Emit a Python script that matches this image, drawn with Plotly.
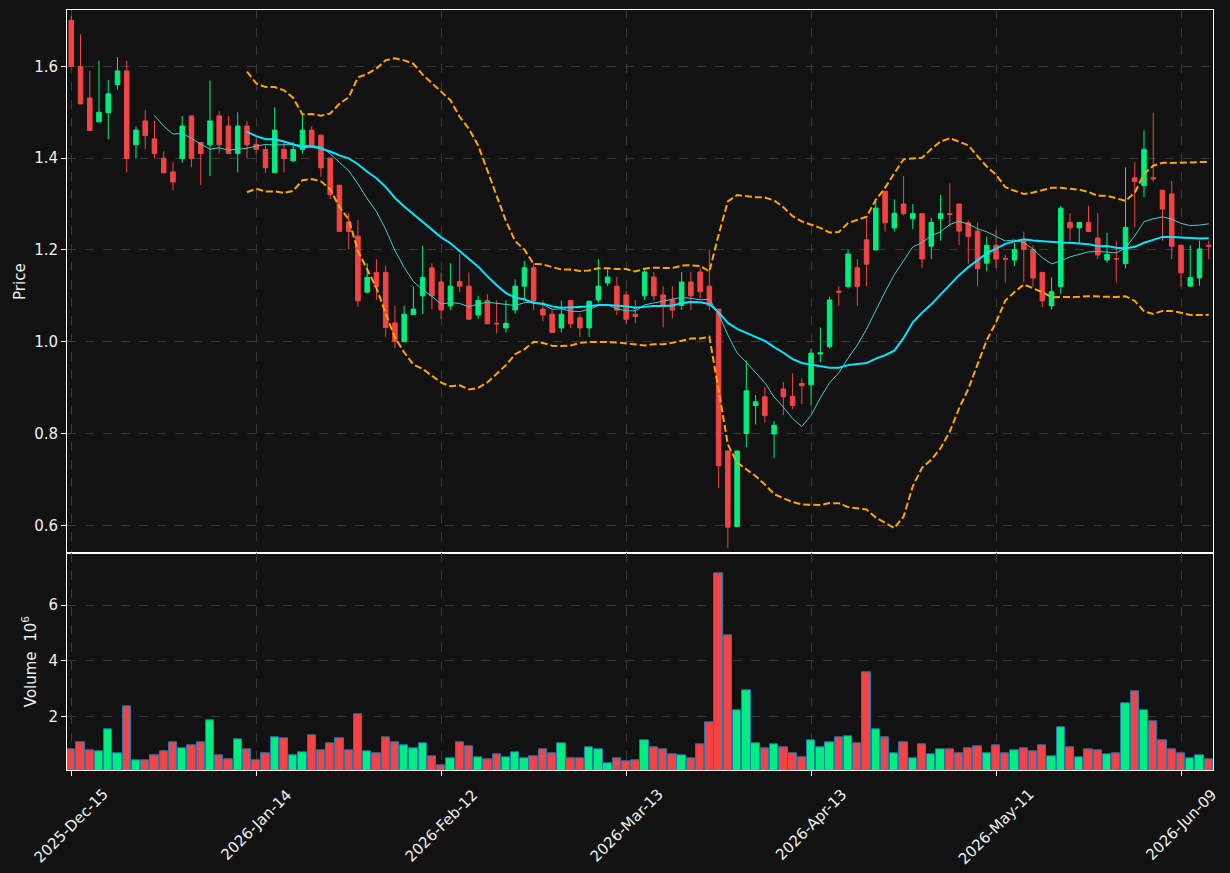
import numpy as np
import pandas as pd
import plotly.graph_objects as go

# ---------------- data ----------------
opens = [1.70, 1.60, 1.531, 1.479, 1.499, 1.56, 1.59, 1.429, 1.481, 1.442,
         1.40, 1.37, 1.399, 1.492, 1.434, 1.429, 1.492, 1.47, 1.41, 1.47,
         1.43, 1.419, 1.368, 1.419, 1.394, 1.419, 1.461, 1.45, 1.40, 1.341,
         1.261, 1.23, 1.108, 1.151, 1.151, 1.041, 1.00, 1.059, 1.10, 1.161,
         1.13, 1.078, 1.131, 1.121, 1.058, 1.09, 1.040, 1.03, 1.069, 1.121,
         1.161, 1.071, 1.06, 1.03, 1.09, 1.052, 1.03, 1.091, 1.128, 1.121,
         1.102, 1.06, 1.10, 1.141, 1.102, 1.091, 1.079, 1.13, 1.152, 1.121,
         1.071, 0.762, 0.597, 0.80, 0.861, 0.88, 0.799, 0.897, 0.881, 0.909,
         0.906, 0.973, 0.989, 1.11, 1.12, 1.161, 1.222, 1.20, 1.328, 1.248,
         1.30, 1.268, 1.279, 1.208, 1.268, 1.279, 1.30, 1.259, 1.241, 1.171,
         1.21, 1.181, 1.178, 1.221, 1.201, 1.151, 1.078, 1.12, 1.26, 1.248,
         1.26, 1.226, 1.178, 1.181, 1.17, 1.357, 1.34, 1.357, 1.33, 1.322,
         1.21, 1.121, 1.139, 1.21]
highs = [1.71, 1.67, 1.59, 1.612, 1.57, 1.62, 1.612, 1.469, 1.505, 1.481,
         1.415, 1.391, 1.492, 1.492, 1.434, 1.569, 1.502, 1.492, 1.50, 1.481,
         1.447, 1.43, 1.511, 1.435, 1.435, 1.494, 1.47, 1.45, 1.40, 1.341,
         1.28, 1.265, 1.171, 1.18, 1.166, 1.078, 1.078, 1.12, 1.209, 1.171,
         1.151, 1.171, 1.191, 1.151, 1.10, 1.104, 1.09, 1.09, 1.136, 1.176,
         1.171, 1.09, 1.069, 1.09, 1.091, 1.06, 1.09, 1.18, 1.161, 1.141,
         1.11, 1.091, 1.16, 1.152, 1.121, 1.121, 1.152, 1.152, 1.161, 1.201,
         1.071, 0.762, 0.762, 0.959, 0.884, 0.901, 0.827, 0.912, 0.931, 0.92,
         0.985, 1.031, 1.098, 1.121, 1.20, 1.18, 1.271, 1.308, 1.328, 1.31,
         1.361, 1.30, 1.279, 1.27, 1.32, 1.345, 1.30, 1.265, 1.26, 1.229,
         1.243, 1.19, 1.215, 1.24, 1.21, 1.151, 1.14, 1.296, 1.28, 1.26,
         1.296, 1.28, 1.237, 1.22, 1.38, 1.391, 1.46, 1.499, 1.33, 1.35,
         1.21, 1.21, 1.22, 1.22]
lows = [1.599, 1.518, 1.46, 1.479, 1.441, 1.549, 1.369, 1.399, 1.419, 1.399,
        1.368, 1.33, 1.39, 1.38, 1.341, 1.361, 1.411, 1.41, 1.369, 1.40,
        1.41, 1.368, 1.368, 1.368, 1.391, 1.41, 1.429, 1.359, 1.311, 1.24,
        1.201, 1.076, 1.105, 1.091, 1.01, 0.986, 1.00, 1.059, 1.06, 1.071,
        1.049, 1.069, 1.108, 1.049, 1.049, 1.039, 1.018, 1.02, 1.061, 1.09,
        1.069, 1.044, 1.02, 1.02, 1.03, 1.01, 1.01, 1.085, 1.121, 1.058,
        1.039, 1.04, 1.091, 1.09, 1.031, 1.051, 1.069, 1.069, 1.091, 1.069,
        0.681, 0.55, 0.596, 0.77, 0.82, 0.824, 0.746, 0.84, 0.853, 0.864,
        0.861, 0.955, 0.985, 1.078, 1.116, 1.078, 1.121, 1.20, 1.24, 1.24,
        1.275, 1.245, 1.16, 1.18, 1.22, 1.25, 1.21, 1.17, 1.121, 1.153,
        1.16, 1.129, 1.165, 1.129, 1.12, 1.075, 1.07, 1.104, 1.22, 1.215,
        1.24, 1.18, 1.172, 1.129, 1.16, 1.249, 1.315, 1.349, 1.22, 1.18,
        1.12, 1.121, 1.122, 1.18]
closes = [1.60, 1.518, 1.46, 1.50, 1.54, 1.59, 1.399, 1.461, 1.449, 1.41,
          1.368, 1.348, 1.47, 1.399, 1.41, 1.481, 1.429, 1.41, 1.47, 1.429,
          1.419, 1.379, 1.461, 1.399, 1.419, 1.461, 1.429, 1.379, 1.32, 1.24,
          1.24, 1.089, 1.14, 1.12, 1.031, 1.00, 1.06, 1.071, 1.14, 1.10,
          1.069, 1.121, 1.121, 1.049, 1.09, 1.039, 1.039, 1.04, 1.121, 1.161,
          1.089, 1.058, 1.02, 1.06, 1.039, 1.03, 1.088, 1.121, 1.141, 1.069,
          1.049, 1.055, 1.152, 1.10, 1.08, 1.069, 1.13, 1.10, 1.109, 1.079,
          0.73, 0.596, 0.762, 0.893, 0.869, 0.839, 0.818, 0.88, 0.861, 0.904,
          0.975, 0.976, 1.091, 1.108, 1.191, 1.12, 1.169, 1.291, 1.259, 1.28,
          1.279, 1.279, 1.18, 1.26, 1.279, 1.277, 1.241, 1.229, 1.159, 1.21,
          1.18, 1.18, 1.201, 1.201, 1.139, 1.089, 1.109, 1.291, 1.248, 1.26,
          1.24, 1.189, 1.19, 1.18, 1.249, 1.349, 1.419, 1.355, 1.289, 1.208,
          1.15, 1.14, 1.202, 1.208]
volumes_m = [0.82, 1.07, 0.79, 0.75, 1.54, 0.68, 2.36, 0.43, 0.43, 0.61,
             0.75, 1.07, 0.86, 0.96, 1.07, 1.86, 0.61, 0.46, 1.18, 0.82,
             0.43, 0.68, 1.25, 1.21, 0.61, 0.71, 1.32, 0.79, 1.04, 1.21,
             0.79, 2.07, 0.75, 0.68, 1.25, 1.07, 0.96, 0.86, 1.04, 0.57,
             0.25, 0.50, 1.07, 0.93, 0.54, 0.46, 0.64, 0.54, 0.71, 0.50,
             0.57, 0.82, 0.68, 1.04, 0.50, 0.50, 0.89, 0.82, 0.32, 0.50,
             0.39, 0.43, 1.14, 0.89, 0.82, 0.64, 0.61, 0.50, 1.00, 1.79,
             7.15, 4.90, 2.21, 2.93, 1.04, 0.86, 1.00, 0.89, 0.68, 0.54,
             1.14, 0.89, 1.07, 1.25, 1.29, 1.04, 3.57, 1.54, 1.25, 0.68,
             1.07, 0.50, 1.00, 0.64, 0.82, 0.82, 0.68, 0.86, 0.93, 0.68,
             0.96, 0.68, 0.79, 0.86, 0.75, 0.96, 0.57, 1.61, 0.89, 0.54,
             0.82, 0.79, 0.64, 0.68, 2.46, 2.89, 2.21, 1.82, 1.14, 0.82,
             0.68, 0.50, 0.61, 0.46]
tick_positions = [0, 20, 40, 60, 80, 100, 120]
tick_labels = ["2025-Dec-15", "2026-Jan-14", "2026-Feb-12", "2026-Mar-13",
               "2026-Apr-13", "2026-May-11", "2026-Jun-09"]

# ---------------- derived ----------------
n = len(closes)
idx = list(range(n))
close_s = pd.Series(closes)
ma10 = close_s.rolling(10).mean()
ma20 = close_s.rolling(20).mean()
sd20 = close_s.rolling(20).std(ddof=0)
bb_up = ma20 + 2 * sd20
bb_lo = ma20 - 2 * sd20

UP = "#00ee7f"
DOWN = "#f24444"
BG = "#121212"
GRID = "#3a3a3a"
FONT = "DejaVu Sans"
vol_colors = [UP if c >= o else DOWN for o, c in zip(opens, closes)]

fig = go.Figure()
fig.add_trace(go.Candlestick(
    x=idx, open=opens, high=highs, low=lows, close=closes,
    increasing=dict(line=dict(color=UP, width=1), fillcolor=UP),
    decreasing=dict(line=dict(color=DOWN, width=1), fillcolor=DOWN),
    whiskerwidth=0, xaxis="x", yaxis="y", showlegend=False))
fig.add_trace(go.Scatter(x=idx, y=ma10, mode="lines",
                         line=dict(color="#3fd0cc", width=1),
                         xaxis="x", yaxis="y", showlegend=False))
fig.add_trace(go.Scatter(x=idx, y=ma20, mode="lines",
                         line=dict(color="#00e8ff", width=2),
                         xaxis="x", yaxis="y", showlegend=False))
for band in (bb_up, bb_lo):
    fig.add_trace(go.Scatter(x=idx, y=band, mode="lines",
                             line=dict(color="#ffa500", width=2, dash="7px,3px"),
                             xaxis="x", yaxis="y", showlegend=False))
fig.add_trace(go.Bar(x=idx, y=volumes_m, width=0.9,
                     marker=dict(color=vol_colors,
                                 line=dict(color="#1f77b4", width=1)),
                     xaxis="x2", yaxis="y2", showlegend=False))

split = (770 - 553.3) / 760
axis_common = dict(showline=True, mirror=True, linecolor="white", linewidth=1,
                   showgrid=True, gridcolor=GRID, griddash="dash", gridwidth=1,
                   zeroline=False, ticks="outside", ticklen=5, tickcolor="white",
                   tickfont=dict(color="#f0f0f0", size=15, family=FONT))
xr = [-0.46, 123.46]

# rotated date labels centred under their ticks
annotations = []
for pos, lab in zip(tick_positions, tick_labels):
    annotations.append(dict(x=pos, xref="x2", y=-0.017, yref="paper",
                            text=lab, showarrow=False, textangle=-45,
                            xanchor="center", yanchor="top",
                            font=dict(color="#f0f0f0", size=15, family=FONT)))

fig.update_layout(
    width=1230, height=873,
    paper_bgcolor=BG, plot_bgcolor=BG,
    margin=dict(l=67, r=17, t=10, b=103),
    font=dict(family=FONT, color="white", size=15),
    showlegend=False, bargap=0,
    annotations=annotations,
    xaxis=dict(domain=[0, 1], anchor="y", range=xr, tickvals=tick_positions,
               ticktext=tick_labels, showticklabels=False,
               rangeslider=dict(visible=False), **axis_common),
    xaxis2=dict(domain=[0, 1], anchor="y2", range=xr, matches="x",
                tickvals=tick_positions, ticktext=tick_labels,
                showticklabels=False, **axis_common),
    yaxis=dict(domain=[split, 1], anchor="x", range=[0.539, 1.7227],
               tickvals=[0.6, 0.8, 1.0, 1.2, 1.4, 1.6], tickformat=".1f",
               title=dict(text="Price", font=dict(size=15, color="#f0f0f0"),
                          standoff=4),
               **axis_common),
    yaxis2=dict(domain=[0, split], anchor="x2", range=[0.065, 7.87],
                tickvals=[2, 4, 6],
                title=dict(text="Volume  10<sup>6</sup>",
                           font=dict(size=15, color="#f0f0f0"), standoff=8),
                **axis_common),
)

fig.write_html("out.html")
